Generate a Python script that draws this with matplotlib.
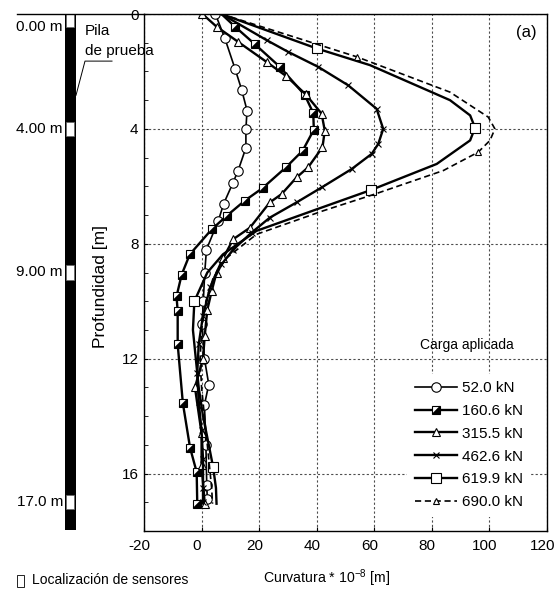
import matplotlib
matplotlib.use('Agg')
import matplotlib.pyplot as plt
import matplotlib.transforms as mtransforms
from matplotlib.lines import Line2D
from matplotlib.patches import Rectangle
from matplotlib.path import Path

plt.rcParams['font.family'] = ['Liberation Sans', 'DejaVu Sans']
plt.rcParams['mathtext.fontset'] = 'custom'
plt.rcParams['mathtext.rm'] = 'Liberation Sans'
plt.rcParams['mathtext.default'] = 'regular'
plt.rcParams['axes.unicode_minus'] = False

# datos: profundidad [m] y curvatura * 1e-8
cargas = ['52.0 kN', '160.6 kN', '315.5 kN', '462.6 kN', '619.9 kN', '690.0 kN']

prof_52 = [0, 0.85, 1.9, 2.63, 3.36, 4.0, 4.66, 5.45, 5.9, 6.6, 7.2, 8.2, 9.0, 10.0, 10.8, 12.0, 12.9, 13.6, 15.0, 16.4, 16.9]
curv_52 = [4.8, 8.1, 11.6, 13.9, 15.8, 15.4, 15.4, 12.7, 10.8, 7.7, 5.8, 1.7, 1.1, 0.6, 0.2, 1.0, 2.5, 1.0, 1.5, 1.8, 2.0]

prof_160 = [0, 0.44, 1.05, 1.84, 2.83, 3.45, 4.03, 4.76, 5.34, 6.06, 6.5, 7.03, 7.5, 8.37, 9.07, 9.83, 10.35, 11.5, 13.55, 15.1, 15.95, 17.05]
curv_160 = [6.9, 11.6, 18.5, 27.2, 35.9, 38.8, 39.0, 35.1, 29.3, 21.2, 15.0, 8.7, 3.5, -4.1, -6.9, -8.7, -8.3, -8.3, -6.5, -4.0, -1.7, -1.5]

prof_315 = [0, 0.44, 0.97, 1.67, 2.17, 2.8, 3.47, 4.06, 4.64, 5.34, 5.69, 6.27, 6.56, 7.44, 7.84, 8.5, 9.0, 9.65, 10.3, 11.2, 12.0, 13.0, 14.6, 15.7, 17.05]
curv_315 = [0.3, 5.2, 12.7, 22.6, 29.5, 36.2, 41.7, 42.8, 42.0, 37.0, 33.0, 27.8, 23.7, 16.8, 11.0, 7.5, 5.2, 3.5, 2.0, 1.1, 0.5, -2.3, 0.0, 0.0, 1.1]

prof_462 = [0, 0.91, 1.32, 1.84, 2.48, 3.3, 4.0, 4.52, 4.87, 5.4, 6.04, 6.56, 7.09, 7.61, 8.2, 8.72, 9.5, 10.5, 11.5, 12.5, 13.5, 14.5, 15.5, 16.5, 17.0]
curv_462 = [6.9, 22.6, 30.1, 40.5, 50.9, 60.8, 63.1, 61.4, 59.1, 52.1, 41.7, 33.0, 23.7, 17.4, 11.0, 6.9, 3.0, 0.5, -1.0, -1.5, -1.0, 0.0, 0.5, 0.5, 0.5]

prof_620 = [0, 1.2, 1.78, 3.0, 3.53, 3.96, 4.4, 5.22, 6.13, 6.8, 7.55, 8.37, 9.0, 10.0, 11.0, 12.0, 13.0, 14.0, 15.0, 15.77, 16.5, 17.05]
curv_620 = [6.9, 40.0, 58.5, 86.3, 93.3, 95.0, 93.3, 81.7, 58.8, 40.0, 19.1, 7.4, 2.0, -2.5, -3.0, -2.0, -1.0, 0.5, 2.5, 4.0, 5.0, 5.2]
marcas_620 = [1, 5, 8, 13, 19]

prof_690 = [0, 1.49, 2.72, 3.59, 4.0, 4.4, 4.81, 5.45, 6.27, 6.85, 7.67, 8.49, 9.2, 10.0, 11.0, 12.0, 13.0, 14.0, 15.0, 16.0, 16.5, 17.05]
curv_690 = [6.9, 53.9, 86.3, 99.6, 101.9, 100.2, 96.1, 84.0, 60.2, 42.3, 19.1, 8.7, 4.0, 1.5, 0.0, -0.5, 0.0, 1.0, 2.0, 3.0, 3.5, 3.8]
marcas_690 = [1, 6]

sensores = [0, 4, 9, 17]
sensores_txt = ['0.00 m', '4.00 m', '9.00 m', '17.0 m']

x_ticks = [-20, 0, 20, 40, 60, 80, 100, 120]
y_ticks = [0, 4, 8, 12, 16]

W, H = 556, 589
fig = plt.figure(figsize=(W / 100, H / 100), dpi=100)
ax_l, ax_r, ax_t, ax_b = 144, 547, 14, 531
pos_b = 1 - ax_b / H
pos_h = (ax_b - ax_t) / H
ax = fig.add_axes([ax_l / W, pos_b, (ax_r - ax_l) / W, pos_h], zorder=1)

# estilos
medio = Path([(-1, -1), (1, -1), (1, 1), (-1, -1)], [1, 2, 2, 79])
e52 = dict(color='k', lw=1.2, marker='o', ms=6.8, mfc='white', mec='k', mew=0.8)
e160 = dict(color='k', lw=1.7, marker='s', ms=6.0, mfc='white', mec='k', mew=0.8)
e160b = dict(color='k', ls='none', marker=medio, ms=6.0, mfc='k', mec='k', mew=0.3)
e315 = dict(color='k', lw=1.7, marker='^', ms=6.0, mfc='white', mec='k', mew=0.8)
e462 = dict(color='k', lw=1.7, marker='x', ms=5.0, mec='k', mew=0.8)
e620 = dict(color='k', lw=1.7, marker='s', ms=6.5, mfc='white', mec='k', mew=0.8)
e690 = dict(color='k', lw=1.2, ls=(0, (3.7, 2.2)), marker='^', ms=5.0, mfc='white', mec='k', mew=0.8)

ax.plot(curv_52, prof_52, **e52)
ax.plot(curv_160, prof_160, markevery=slice(1, None), **e160)
ax.plot(curv_160, prof_160, markevery=slice(1, None), **e160b)
ax.plot(curv_315, prof_315, **e315)
ax.plot(curv_462, prof_462, markevery=slice(1, None), **e462)
ax.plot(curv_620, prof_620, markevery=marcas_620, **e620)
ax.plot(curv_690, prof_690, markevery=marcas_690, **e690)

ax.set_xlim(-20, 120)
ax.set_ylim(18, 0)
ax.set_xticks(x_ticks)
ax.set_yticks(y_ticks)
ax.set_yticks(range(0, 19), minor=True)
ax.tick_params(axis='both', which='both', direction='in', labelsize=11)
ax.tick_params(axis='y', which='major', length=3, pad=4)
ax.tick_params(axis='y', which='minor', length=3)
ax.tick_params(axis='x', which='major', length=3, pad=6)
ax.grid(True, which='major', ls=(0, (2, 2)), color='0.3', lw=0.8)
for s in ax.spines.values():
    s.set_linewidth(1.0)

# las etiquetas del eje x van algo corridas a la izquierda
corr = mtransforms.ScaledTranslation(-4.5 / 100, 0, fig.dpi_scale_trans)
for lab in ax.get_xticklabels():
    lab.set_transform(lab.get_transform() + corr)

ax.text(-0.109, 0.4725, 'Profundidad [m]', rotation=90, ha='center', va='center',
        fontsize=12.5, transform=ax.transAxes)
ax.text(0.975, 0.965, '(a)', ha='right', va='center', fontsize=12, transform=ax.transAxes)
ax.text(0.801, 0.36, 'Carga aplicada', ha='center', va='center', fontsize=10,
        transform=ax.transAxes)

proxies = [Line2D([], [], **e52),
           (Line2D([], [], **e160), Line2D([], [], **e160b)),
           Line2D([], [], **e315),
           Line2D([], [], **e462),
           Line2D([], [], **e620),
           Line2D([], [], **e690)]
leg = ax.legend(proxies, cargas, loc='center', bbox_to_anchor=(0.806, 0.166),
                numpoints=1, fontsize=11, handlelength=2.8, handletextpad=0.3,
                labelspacing=0.57, borderpad=0.5, frameon=True, fancybox=False,
                framealpha=1, facecolor='white', edgecolor='none')

# esquema de la pila
axp = fig.add_axes([0, pos_b, ax_l / W, pos_h], zorder=3)
axp.set_xlim(0, ax_l)
axp.set_ylim(18, 0)
axp.axis('off')
axp.add_patch(Rectangle((65, -0.05), 11, 18.0, fc='k', ec='none'))
for d, txt in zip(sensores, sensores_txt):
    c = max(d, 0.2)
    axp.add_patch(Rectangle((65.5, c - 0.25), 8, 0.5, fc='white', ec='0.4', lw=0.5))
    axp.text(63, max(d, 0.45), txt, ha='right', va='center', fontsize=11)
axp.plot([17, ax_l], [0, 0], color='k', lw=1.0, clip_on=False)
axp.text(85, 0.6, 'Pila', ha='left', va='center', fontsize=11)
axp.text(85, 1.29, 'de prueba', ha='left', va='center', fontsize=11)
axp.plot([112, 85, 76], [1.64, 1.64, 2.83], color='k', lw=0.7)

# textos inferiores
fig.add_artist(Rectangle((17 / W, 1 - 587 / H), 7 / W, 12 / H, transform=fig.transFigure,
                         fill=False, ec='k', lw=0.6))
fig.text(31.7 / W, 1 - 580 / H, 'Localización de sensores', ha='left', va='center', fontsize=10)
fig.text(327 / W, 1 - 578 / H, 'Curvatura * 10$^{-8}$ [m]', ha='center', va='center', fontsize=10.2)

fig.savefig('out.png', dpi=100)
